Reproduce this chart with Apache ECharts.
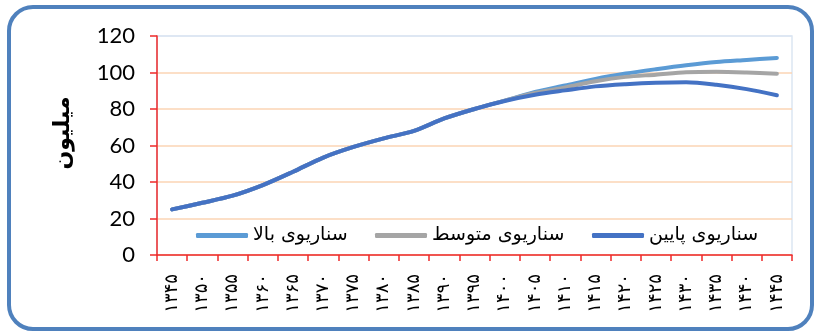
<!DOCTYPE html>
<html>
<head>
<meta charset="utf-8">
<script src="https://cdn.jsdelivr.net/npm/echarts@6/dist/echarts.min.js"></script>
<style>
  html, body { margin: 0; padding: 0; background: #ffffff; }
  #chart { width: 814px; height: 333px; }
</style>
</head>
<body>
<div id="chart"></div>
<script>
// Population projection (million) by year, three scenarios
const years = ['۱۳۴۵', '۱۳۵۰', '۱۳۵۵', '۱۳۶۰', '۱۳۶۵', '۱۳۷۰', '۱۳۷۵', '۱۳۸۰', '۱۳۸۵', '۱۳۹۰', '۱۳۹۵',
               '۱۴۰۰', '۱۴۰۵', '۱۴۱۰', '۱۴۱۵', '۱۴۲۰', '۱۴۲۵', '۱۴۳۰', '۱۴۳۵', '۱۴۴۰', '۱۴۴۵'];
const highScenario = [25, 28.6, 32.5, 38.3, 45.6, 53.4, 59.2, 63.9, 68, 74.8, 80,
                      84.6, 89.3, 92.9, 96.5, 99.4, 101.8, 104, 105.8, 106.9, 108];
const midScenario  = [25, 28.6, 32.5, 38.3, 45.6, 53.4, 59.2, 63.9, 68, 74.8, 80,
                      84.6, 88.8, 91.8, 95.2, 97.6, 98.8, 100.1, 100.4, 100, 99.3];
const lowScenario  = [25, 28.6, 32.5, 38.3, 45.6, 53.4, 59.2, 63.9, 68, 74.8, 80,
                      84.4, 87.8, 90.2, 92.4, 93.6, 94.4, 94.7, 93.3, 90.9, 87.5];
const seriesNames = ['سناریوی بالا', 'سناریوی متوسط', 'سناریوی پایین'];
const seriesColors = ['#5b9bd5', '#a5a5a5', '#4472c4'];
const yTicks = { min: 0, max: 120, interval: 20 };
const yTitle = 'میلیون';

const chart = echarts.init(document.getElementById('chart'), null, { renderer: 'canvas' });

const arabicFont = '"DejaVu Sans", sans-serif';

function legendFor(name, left) {
  return {
    data: [name],
    left: left,
    top: 226,
    icon: 'roundRect',
    itemWidth: 52,
    itemHeight: 5,
    itemGap: 0,
    textStyle: { fontFamily: arabicFont, fontSize: 19, color: '#000000' },
    padding: 0
  };
}

const option = {
  backgroundColor: '#ffffff',
  animation: false,
  grid: {
    left: 157, right: 22, top: 36, bottom: 78,
    show: true, borderColor: '#dce6f2', borderWidth: 1.5, backgroundColor: 'transparent'
  },
  legend: [
    legendFor(seriesNames[0], 196),
    legendFor(seriesNames[1], 375),
    legendFor(seriesNames[2], 592)
  ],
  xAxis: {
    type: 'category',
    data: years,
    boundaryGap: true,
    axisLine: { lineStyle: { color: '#ee2a2a', width: 1.5 } },
    axisTick: { show: true, length: 6, lineStyle: { color: '#ee2a2a', width: 1.5 } },
    axisLabel: {
      rotate: 90, interval: 0, margin: 19,
      fontFamily: arabicFont, fontSize: 18, color: '#000000'
    },
    splitLine: { show: false }
  },
  yAxis: {
    type: 'value',
    min: yTicks.min, max: yTicks.max, interval: yTicks.interval,
    axisLine: { show: true, lineStyle: { color: '#ee2a2a', width: 1.5 } },
    axisTick: { show: true, length: 7, lineStyle: { color: '#ee2a2a', width: 1.5 } },
    axisLabel: { margin: 22, fontFamily: 'Lato, sans-serif', fontSize: 22, color: '#000000' },
    splitLine: {
      show: true,
      lineStyle: { color: ['#fbd5b5', '#fbd5b5', '#fbd5b5', '#fbd5b5', '#fbd5b5', '#fbd5b5', '#dce6f2'], width: 1.5 }
    }
  },
  graphic: [
    {
      type: 'rect',
      shape: { x: 9, y: 7, width: 803, height: 322, r: 24 },
      style: { fill: null, stroke: '#4f81bd', lineWidth: 4 },
      z: 100
    },
    {
      type: 'text',
      x: 63, y: 133,
      rotation: Math.PI / 2,
      style: {
        text: yTitle, fontFamily: arabicFont, fontWeight: 'bold', fontSize: 22,
        fill: '#000000', align: 'center', verticalAlign: 'middle'
      }
    }
  ],
  series: [
    { name: seriesNames[0], type: 'line', data: highScenario },
    { name: seriesNames[1], type: 'line', data: midScenario },
    { name: seriesNames[2], type: 'line', data: lowScenario }
  ].map((s, i) => Object.assign(s, {
    smooth: 0.3,
    showSymbol: false,
    symbol: 'none',
    color: seriesColors[i],
    lineStyle: { width: 4, color: seriesColors[i], cap: 'round', join: 'round' },
    z: 3 + i
  }))
};

chart.setOption(option);
</script>
</body>
</html>
